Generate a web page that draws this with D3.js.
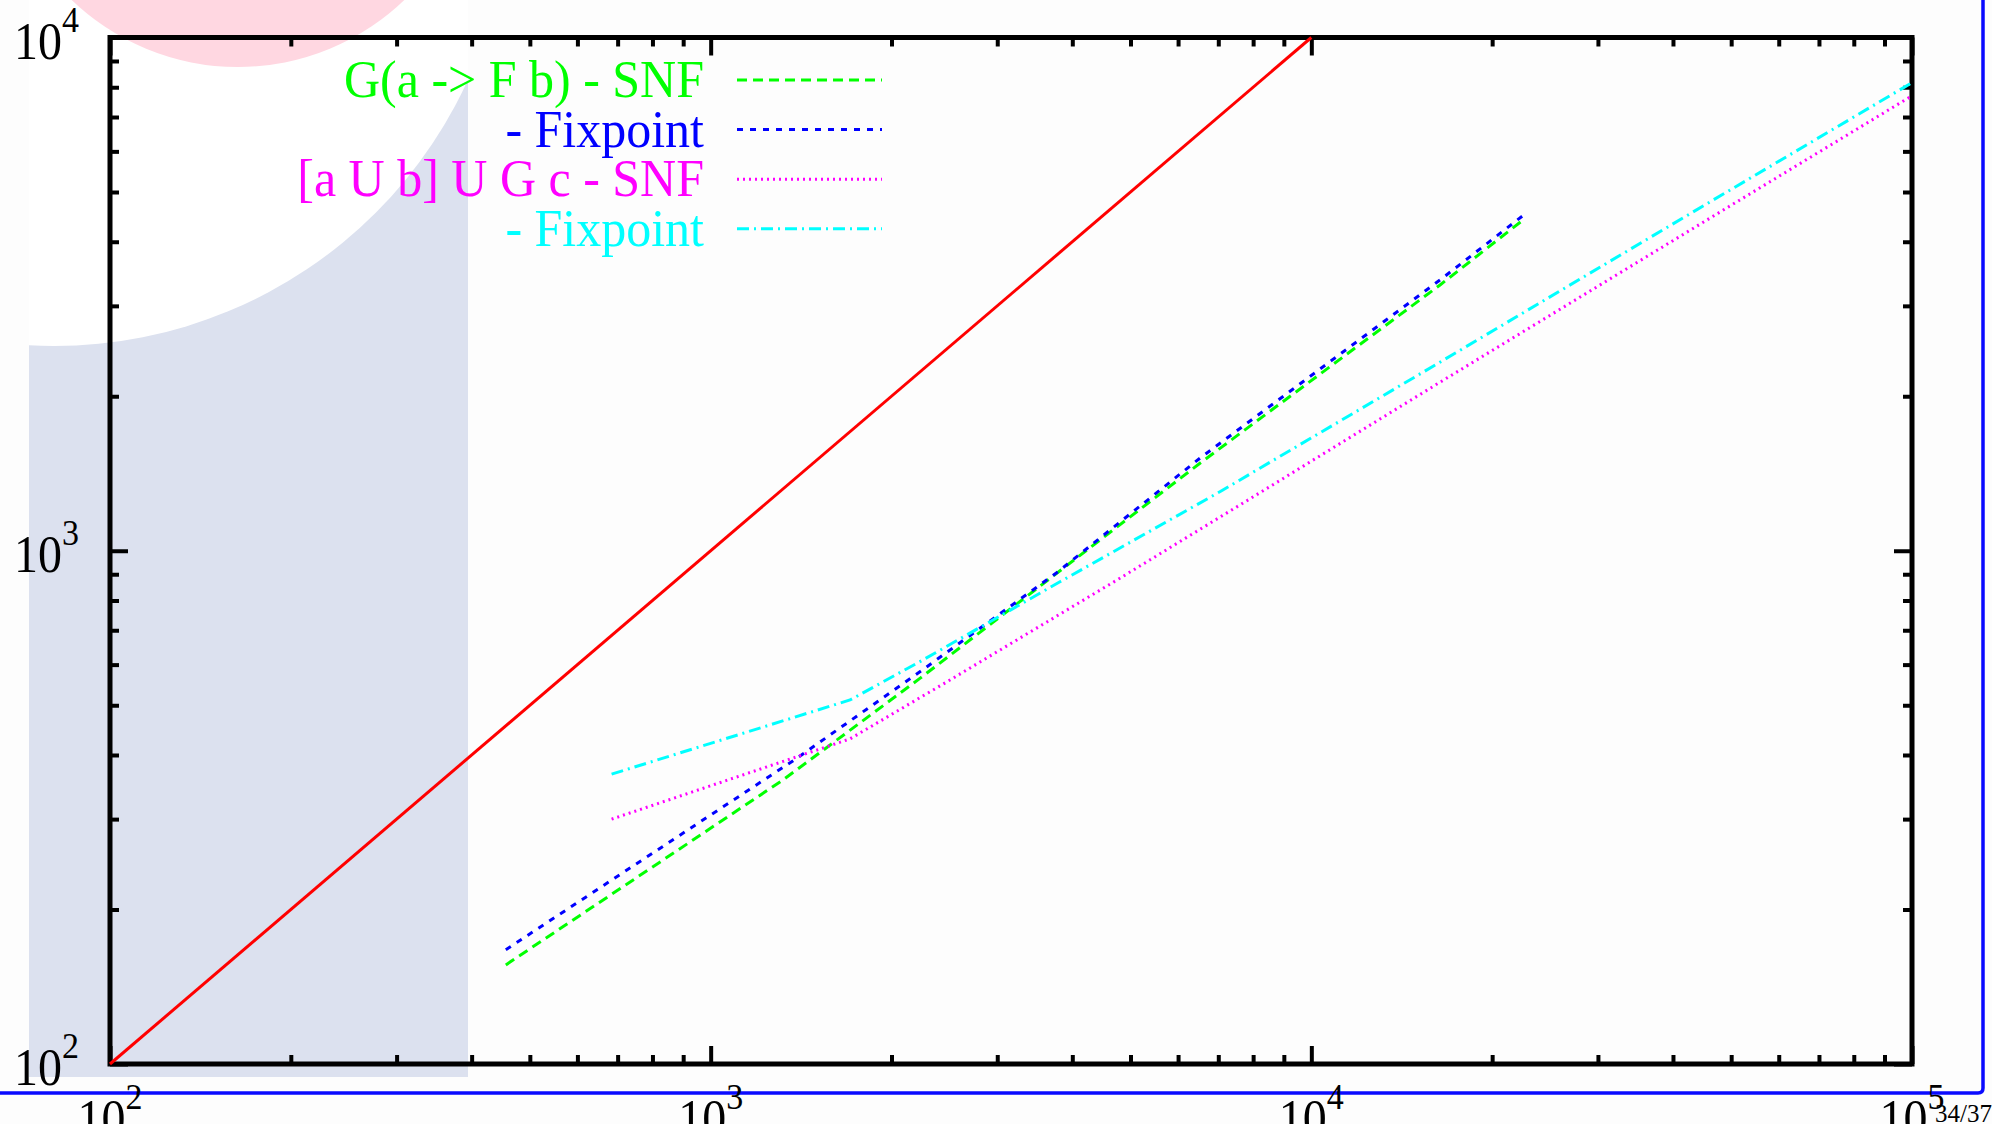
<!DOCTYPE html>
<html>
<head>
<meta charset="utf-8">
<script src="https://cdn.jsdelivr.net/npm/d3@7"></script>
<style>
  html, body { margin: 0; padding: 0; background: #fdfdfd; overflow: hidden; }
  svg { display: block; }
  text { font-family: "Liberation Serif", "Times New Roman", serif; }
</style>
</head>
<body>
<svg id="chart" width="1992" height="1124"></svg>
<script>
// --- Data ---

const xDecades = [100, 1000, 10000, 100000];
const xExponents = ['2', '3', '4', '5'];
const yDecades = [100, 1000, 10000];
const yExponents = ['2', '3', '4'];

// reference diagonal y = x
const diagX = [100, 10000];
const diagY = [100, 10000];

// G(a -> F b) - SNF
const gSnfX = [456, 1321, 2230, 6525, 16380, 22630];
const gSnfY = [156, 358, 564, 1481, 3295, 4430];

// G(a -> F b) - Fixpoint
const gFixX = [456, 1391, 2230, 3767, 6525, 16380, 22630];
const gFixY = [167, 394, 581, 906, 1515, 3370, 4520];

// [a U b] U G c - SNF
const uSnfX = [684, 1706, 2503, 4801, 8005, 16270, 51700, 100000];
const uSnfY = [300, 430, 560, 884, 1274, 2120, 4825, 7700];

// [a U b] U G c - Fixpoint
const uFixX = [684, 1706, 2230, 3815, 7043, 16250, 46690, 100000];
const uFixY = [367, 512, 608, 870, 1303, 2318, 4825, 8166];

const legendLabels = ['G(a -> F b) - SNF', '- Fixpoint', '[a U b] U G c - SNF', '- Fixpoint'];

// --- Layout ---

const W = 1992, H = 1124;
const plot = { left: 110, right: 1912, top: 37.5, bottom: 1064 };
// the slide text is a little taller than it is wide
const tickFont = 48, supFont = 34, supRaise = 25, tickStretch = 1.08;
const legendFont = 50, legendStretch = 1.05;

const svg = d3.select('#chart');

const x = d3.scaleLog().domain([100, 100000]).range([plot.left, plot.right]);
const y = d3.scaleLog().domain([100, 10000]).range([plot.bottom, plot.top]);

// --- Slide decoration ---

svg.append('rect').attr('width', W).attr('height', H).attr('fill', '#fdfdfd');

const defs = svg.append('defs');
defs.append('clipPath').attr('id', 'deco-clip')
  .append('rect').attr('x', 29).attr('y', 0).attr('width', 439).attr('height', 1077);
defs.append('clipPath').attr('id', 'plot-clip')
  .append('rect').attr('x', plot.left - 2).attr('y', plot.top - 2)
  .attr('width', plot.right - plot.left + 4).attr('height', plot.bottom - plot.top + 4);

const deco = svg.append('g');
deco.append('rect').attr('x', 29).attr('y', 0).attr('width', 439).attr('height', 1077)
  .attr('fill', '#dce1ef');
deco.append('circle').attr('cx', 54).attr('cy', -109).attr('r', 455)
  .attr('fill', '#ffffff').attr('clip-path', 'url(#deco-clip)');
deco.append('circle').attr('cx', 238).attr('cy', -173).attr('r', 240)
  .attr('fill', '#ffd7e1');

// blue slide frame
svg.append('path')
  .attr('d', 'M1983,0 V1088 Q1983,1093 1978,1093 H0')
  .attr('fill', 'none').attr('stroke', '#0a0aff').attr('stroke-width', 3.5);

// --- Axes (inward ticks on all four sides) ---

function minorTicks(decades) {
  const out = [];
  decades.slice(0, -1).forEach(d => {
    for (let m = 2; m <= 9; m++) out.push(d * m);
  });
  return out;
}

const axes = svg.append('g');

function addAxis(axisFn, scale, values, size, transform) {
  const g = axes.append('g').attr('transform', transform)
    .call(axisFn(scale).tickValues(values).tickSize(-size).tickFormat(''));
  g.select('.domain').remove();
  g.selectAll('.tick line').attr('stroke', '#000').attr('stroke-width', 4);
}

[[xDecades, 18], [minorTicks(xDecades), 9]].forEach(([vals, len]) => {
  addAxis(d3.axisBottom, x, vals, len, `translate(0,${plot.bottom})`);
  addAxis(d3.axisTop, x, vals, len, `translate(0,${plot.top})`);
});
[[yDecades, 18], [minorTicks(yDecades), 9]].forEach(([vals, len]) => {
  addAxis(d3.axisLeft, y, vals, len, `translate(${plot.left},0)`);
  addAxis(d3.axisRight, y, vals, len, `translate(${plot.right},0)`);
});

axes.append('rect')
  .attr('x', plot.left).attr('y', plot.top)
  .attr('width', plot.right - plot.left).attr('height', plot.bottom - plot.top)
  .attr('fill', 'none').attr('stroke', '#000').attr('stroke-width', 5);

// tick labels: 10^n with a raised exponent
function powerLabel(g, px, py, exp, anchor) {
  const t = g.append('text')
    .attr('transform', `translate(${px},${py}) scale(1,${tickStretch})`)
    .attr('text-anchor', anchor)
    .attr('font-size', tickFont).attr('fill', '#000');
  t.append('tspan').text('10');
  t.append('tspan').attr('dy', -supRaise).attr('font-size', supFont).text(exp);
}

const labels = svg.append('g');
xDecades.forEach((d, i) => powerLabel(labels, x(d), 1136, xExponents[i], 'middle'));
yDecades.forEach((d, i) => powerLabel(labels, 79, y(d) + 21, yExponents[i], 'end'));

// page number
svg.append('text').attr('x', 1935).attr('y', 1122)
  .attr('font-size', 25).attr('fill', '#000').text('34/37');

// --- Series ---

const line = d3.line().x(d => x(d[0])).y(d => y(d[1]));
const zip = (xs, ys) => xs.map((v, i) => [v, ys[i]]);

const series = [
  { xs: gSnfX, ys: gSnfY, color: '#00ff00', dash: '10,6' },
  { xs: gFixX, ys: gFixY, color: '#0000ff', dash: '6,7' },
  { xs: uSnfX, ys: uSnfY, color: '#ff00ff', dash: '2,4' },
  { xs: uFixX, ys: uFixY, color: '#00ffff', dash: '12,5,2,5' }
];

const lines = svg.append('g').attr('clip-path', 'url(#plot-clip)');

lines.append('path')
  .attr('d', line(zip(diagX, diagY)))
  .attr('fill', 'none').attr('stroke', '#ff0000').attr('stroke-width', 3);

series.forEach(s => {
  lines.append('path')
    .attr('d', line(zip(s.xs, s.ys)))
    .attr('fill', 'none')
    .attr('stroke', s.color)
    .attr('stroke-width', 3)
    .attr('stroke-dasharray', s.dash);
});

// --- Legend ---

const legend = svg.append('g');
series.forEach((s, i) => {
  const ly = 80 + i * 49.6;
  legend.append('text')
    .attr('transform', `translate(704,${ly + 17}) scale(1,${legendStretch})`)
    .attr('text-anchor', 'end')
    .attr('font-size', legendFont)
    .attr('fill', s.color)
    .text(legendLabels[i]);
  legend.append('line')
    .attr('x1', 737).attr('x2', 882).attr('y1', ly).attr('y2', ly)
    .attr('stroke', s.color).attr('stroke-width', 3)
    .attr('stroke-dasharray', s.dash);
});
</script>
</body>
</html>
